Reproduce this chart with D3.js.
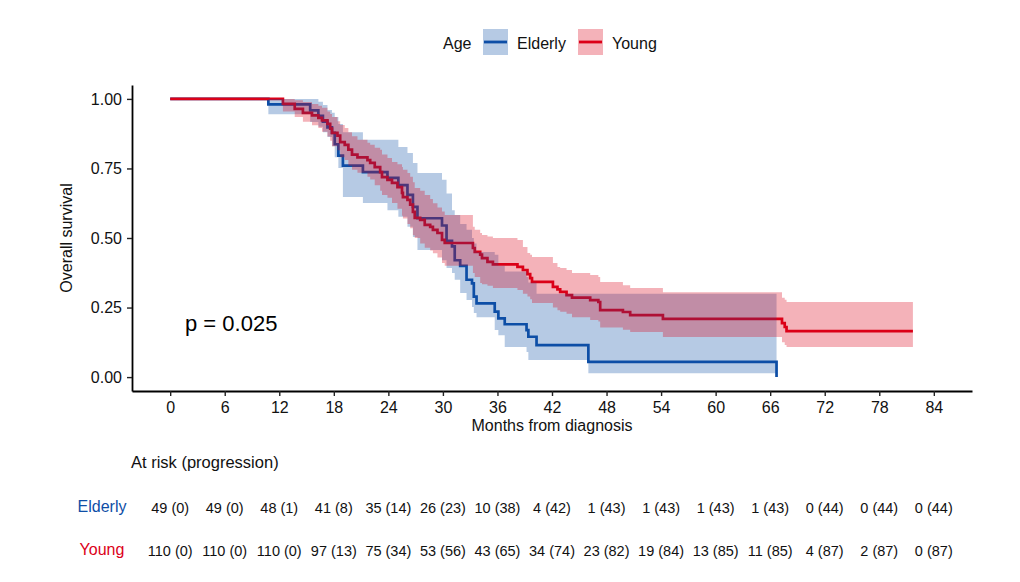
<!DOCTYPE html>
<html>
<head>
<meta charset="utf-8">
<script src="https://cdn.jsdelivr.net/npm/d3@7"></script>
<style>
  body { margin: 0; background: #ffffff; }
  text { font-family: "Liberation Sans", Arial, Helvetica, sans-serif; }
</style>
</head>
<body>
<svg id="chart" width="1020" height="582"></svg>
<script>
// ---------------- DATA ----------------
const groups = ["Elderly", "Young"];
const xTicks = [0, 6, 12, 18, 24, 30, 36, 42, 48, 54, 60, 66, 72, 78, 84];
const yTicks = [0, 0.25, 0.5, 0.75, 1];
const yTickLabels = ["0.00", "0.25", "0.50", "0.75", "1.00"];

const elderlyTime  = [0, 10.8, 15.4, 16.3, 16.8, 17.3, 17.8, 18.1, 18.5, 19.0, 21.2, 23.9, 25.1, 26.1, 26.7, 27.2, 29.9, 30.4, 31.0, 31.3, 31.9, 32.6, 33.2, 33.4, 33.7, 35.7, 36.1, 36.8, 39.2, 39.4, 40.3, 46.0, 66.7];
const elderlySurv  = [1, 0.980, 0.959, 0.939, 0.918, 0.898, 0.878, 0.837, 0.796, 0.760, 0.737, 0.716, 0.690, 0.655, 0.612, 0.571, 0.545, 0.490, 0.470, 0.420, 0.400, 0.350, 0.337, 0.289, 0.265, 0.235, 0.211, 0.190, 0.169, 0.145, 0.115, 0.055, 0];
const elderlyLower = [1, 0.945, 0.917, 0.900, 0.880, 0.863, 0.830, 0.790, 0.752, 0.647, 0.626, 0.600, 0.576, 0.540, 0.504, 0.457, 0.420, 0.392, 0.374, 0.350, 0.302, 0.277, 0.252, 0.230, 0.215, 0.169, 0.150, 0.108, 0.090, 0.061, 0.061, 0.014, 0.014];
const elderlyUpper = [1, 1.000, 1.000, 0.990, 0.978, 0.960, 0.950, 0.935, 0.910, 0.880, 0.853, 0.853, 0.827, 0.806, 0.770, 0.734, 0.709, 0.660, 0.600, 0.583, 0.550, 0.530, 0.500, 0.480, 0.450, 0.440, 0.400, 0.380, 0.360, 0.340, 0.300, 0.300, 0.300];

const youngTime  = [0, 12.4, 13.7, 14.6, 15.6, 16.3, 16.7, 17.3, 17.6, 17.8, 18.4, 18.7, 19.2, 19.6, 20.0, 20.6, 21.7, 22.0, 22.5, 23.1, 23.3, 23.9, 24.4, 25.0, 25.5, 25.6, 26.1, 26.4, 26.7, 26.9, 27.5, 28.0, 28.6, 28.9, 29.4, 29.9, 30.2, 33.3, 33.5, 34.1, 34.3, 34.9, 35.5, 38.2, 38.8, 39.3, 39.6, 39.8, 42.1, 42.6, 42.9, 43.6, 44.2, 46.2, 47.1, 47.3, 49.8, 50.6, 54.2, 67.3, 67.6, 67.8, 81.7];
const youngSurv  = [1, 0.982, 0.964, 0.950, 0.941, 0.932, 0.923, 0.910, 0.893, 0.878, 0.868, 0.845, 0.835, 0.818, 0.800, 0.790, 0.780, 0.770, 0.755, 0.737, 0.719, 0.709, 0.698, 0.683, 0.662, 0.647, 0.637, 0.620, 0.594, 0.572, 0.565, 0.547, 0.540, 0.529, 0.518, 0.493, 0.482, 0.464, 0.450, 0.440, 0.428, 0.414, 0.405, 0.396, 0.385, 0.370, 0.356, 0.342, 0.324, 0.315, 0.306, 0.295, 0.286, 0.277, 0.270, 0.241, 0.234, 0.223, 0.209, 0.194, 0.180, 0.165, 0.165];
const youngLower = [1, 0.955, 0.935, 0.918, 0.905, 0.895, 0.882, 0.865, 0.850, 0.830, 0.815, 0.790, 0.780, 0.760, 0.745, 0.735, 0.720, 0.710, 0.690, 0.670, 0.655, 0.645, 0.626, 0.605, 0.580, 0.570, 0.550, 0.535, 0.510, 0.500, 0.480, 0.465, 0.455, 0.445, 0.430, 0.410, 0.400, 0.374, 0.360, 0.338, 0.334, 0.328, 0.320, 0.313, 0.300, 0.290, 0.280, 0.266, 0.250, 0.240, 0.235, 0.228, 0.215, 0.205, 0.200, 0.178, 0.170, 0.162, 0.144, 0.125, 0.115, 0.108, 0.108];
const youngUpper = [1, 1.000, 0.995, 0.989, 0.982, 0.975, 0.968, 0.955, 0.946, 0.935, 0.920, 0.906, 0.895, 0.880, 0.866, 0.853, 0.842, 0.835, 0.824, 0.817, 0.800, 0.788, 0.773, 0.765, 0.755, 0.745, 0.734, 0.720, 0.700, 0.680, 0.670, 0.655, 0.640, 0.625, 0.610, 0.595, 0.583, 0.540, 0.530, 0.518, 0.511, 0.505, 0.500, 0.493, 0.468, 0.446, 0.440, 0.432, 0.410, 0.396, 0.392, 0.385, 0.374, 0.367, 0.360, 0.342, 0.330, 0.320, 0.305, 0.285, 0.278, 0.270, 0.270];

const riskTitle = "At risk (progression)";
const elderlyRisk = ["49 (0)", "49 (0)", "48 (1)", "41 (8)", "35 (14)", "26 (23)", "10 (38)", "4 (42)", "1 (43)", "1 (43)", "1 (43)", "1 (43)", "0 (44)", "0 (44)", "0 (44)"];
const youngRisk   = ["110 (0)", "110 (0)", "110 (0)", "97 (13)", "75 (34)", "53 (56)", "43 (65)", "34 (74)", "23 (82)", "19 (84)", "13 (85)", "11 (85)", "4 (87)", "2 (87)", "0 (87)"];
const pValueText = "p = 0.025";

// ---------------- STYLE ----------------
const lineColors = ["#0E4EA6", "#DC0018"];
const bandOpacity = 0.3;
const textColor = "#111111";

// ---------------- CHART ----------------
const svg = d3.select("#chart");
const x = d3.scaleLinear().domain([-4.2, 88.2]).range([132, 972]);
const y = d3.scaleLinear().domain([-0.05, 1.05]).range([391, 85]);

function rows(t, s, lo, up) { return t.map((d, i) => ({ t: d, s: s[i], lo: lo[i], up: up[i] })); }
const series = [
  { name: groups[0], color: lineColors[0], data: rows(elderlyTime, elderlySurv, elderlyLower, elderlyUpper) },
  { name: groups[1], color: lineColors[1], data: rows(youngTime, youngSurv, youngLower, youngUpper) }
];

const line = d3.line().curve(d3.curveStepAfter).x(d => x(d.t)).y(d => y(d.s));
const area = d3.area().curve(d3.curveStepAfter).x(d => x(d.t)).y0(d => y(d.lo)).y1(d => y(d.up));

// survival lines first, then confidence ribbons (ggplot layer order)
const gLines = svg.append("g");
series.forEach(sr => {
  gLines.append("path").datum(sr.data).attr("d", line)
    .attr("fill", "none").attr("stroke", sr.color).attr("stroke-width", 2.7);
});
const gBands = svg.append("g");
series.forEach(sr => {
  gBands.append("path").datum(sr.data).attr("d", area)
    .attr("fill", sr.color).attr("fill-opacity", bandOpacity).attr("stroke", "none");
});

// axes
const xAxis = d3.axisBottom(x).tickValues(xTicks).tickSize(5).tickPadding(5.5).tickSizeOuter(0);
const gx = svg.append("g").attr("transform", "translate(0,391)").call(xAxis);
const yAxis = d3.axisLeft(y).tickValues(yTicks).tickFormat((d, i) => yTickLabels[i]).tickSize(5).tickPadding(5).tickSizeOuter(0);
const gy = svg.append("g").attr("transform", "translate(132,0)").call(yAxis);
[gx, gy].forEach(g => {
  g.select(".domain").attr("stroke", "#000").attr("stroke-width", 1.8);
  g.selectAll(".tick line").attr("stroke", "#222").attr("stroke-width", 1.4);
  g.selectAll(".tick text").attr("fill", textColor).style("font-size", "16px");
});

// axis titles
svg.append("text").attr("x", 552).attr("y", 431).attr("text-anchor", "middle")
  .style("font-size", "16px").attr("fill", textColor).text("Months from diagnosis");
svg.append("text").attr("transform", "translate(72,238) rotate(-90)").attr("text-anchor", "middle")
  .style("font-size", "16px").attr("fill", textColor).text("Overall survival");

// p value
svg.append("text").attr("x", 185).attr("y", 331).style("font-size", "22px")
  .attr("fill", "#000").text(pValueText);

// legend
const lg = svg.append("g");
lg.append("text").attr("x", 443).attr("y", 49).style("font-size", "16px").attr("fill", textColor).text("Age");
const legendItems = [
  { name: groups[0], color: lineColors[0], bx: 483, tx: 517 },
  { name: groups[1], color: lineColors[1], bx: 578, tx: 612 }
];
legendItems.forEach(it => {
  lg.append("rect").attr("x", it.bx).attr("y", 29).attr("width", 25).attr("height", 26)
    .attr("fill", it.color).attr("fill-opacity", bandOpacity);
  lg.append("line").attr("x1", it.bx + 1).attr("x2", it.bx + 24).attr("y1", 42).attr("y2", 42)
    .attr("stroke", it.color).attr("stroke-width", 2.8);
  lg.append("text").attr("x", it.tx).attr("y", 49).style("font-size", "16px").attr("fill", textColor).text(it.name);
});

// risk table
svg.append("text").attr("x", 131).attr("y", 468).style("font-size", "16.5px").attr("fill", textColor).text(riskTitle);
const riskRows = [
  { name: groups[0], color: lineColors[0], vals: elderlyRisk, yb: 513 },
  { name: groups[1], color: lineColors[1], vals: youngRisk, yb: 556 }
];
riskRows.forEach(r => {
  svg.append("text").attr("x", 102).attr("y", r.yb - 1).attr("text-anchor", "middle")
    .style("font-size", "16px").attr("fill", r.color).text(r.name);
  svg.append("g").selectAll("text").data(r.vals).join("text")
    .attr("x", (d, i) => x(xTicks[i])).attr("y", r.yb).attr("text-anchor", "middle")
    .style("font-size", "14.5px").attr("fill", textColor).text(d => d);
});
</script>
</body>
</html>
